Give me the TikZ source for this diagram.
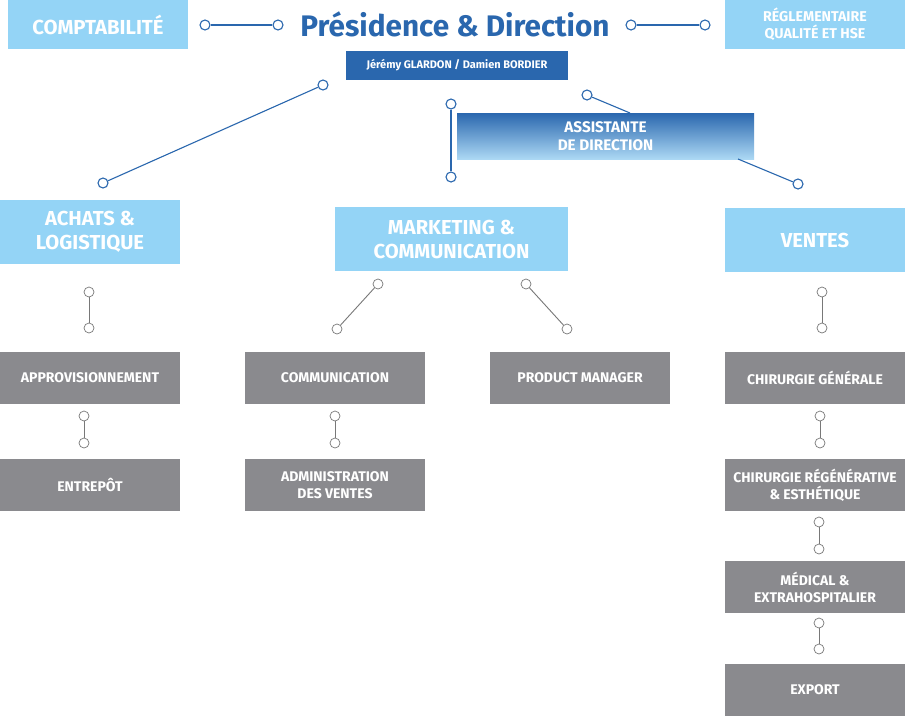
\documentclass[tikz,border=0pt]{standalone}
\usepackage{fontspec}
\setmainfont{Fira Sans}
\definecolor{lblue}{RGB}{148,212,246}
\definecolor{dblue}{RGB}{42,103,174}
\definecolor{gbox}{RGB}{138,138,142}
\definecolor{gline}{RGB}{120,120,120}
\definecolor{gradlow}{RGB}{172,216,244}
\tikzset{
  lbox/.style={rectangle, fill=lblue, inner sep=0pt, text=white, font=\bfseries, align=center},
  gbx/.style={rectangle, fill=gbox, inner sep=0pt, text=white, font=\bfseries\fontsize{14}{17}\selectfont, align=center, minimum width=180pt, minimum height=52pt},
  bdot/.style={circle, draw=dblue, fill=white, line width=1.1pt, minimum size=10pt, inner sep=0pt},
  gdot/.style={circle, draw=gline, fill=white, line width=0.7pt, minimum size=10pt, inner sep=0pt},
  bline/.style={draw=dblue, line width=1.1pt},
  gln/.style={draw=gline, line width=0.9pt},
}
\begin{document}
\begin{tikzpicture}[x=1pt,y=-1pt]
\useasboundingbox[fill=white] (0,0) rectangle (905,716);
% top row
\node[lbox, minimum width=180pt, minimum height=49pt, font=\bfseries\fontsize{20.3}{24}\selectfont] (compta) at (98,24.5) {COMPTABILITÉ};
\node[lbox, minimum width=180pt, minimum height=49pt, font=\bfseries\fontsize{14.2}{17}\selectfont] (regl) at (815,24.5) {RÉGLEMENTAIRE\\QUALITÉ ET HSE};
\node[text=dblue, font=\bfseries\fontsize{29.7}{34}\selectfont, inner sep=0pt, anchor=base] (title) at (455,36) {Présidence \& Direction};
\node[rectangle, fill=dblue, inner sep=0pt, minimum width=222pt, minimum height=29pt, text=white, font=\bfseries\fontsize{11}{13}\selectfont] (names) at (457,65.5) {Jérémy GLARDON / Damien BORDIER};
\node[rectangle, inner sep=0pt, minimum width=297pt, minimum height=46pt, top color=dblue, bottom color=gradlow, text=white, font=\bfseries\fontsize{15.3}{18}\selectfont, align=center] (asst) at (605.5,136) {ASSISTANTE\\DE DIRECTION};
% top connectors
\node[bdot] (t1) at (205,25) {}; \node[bdot] (t2) at (278,25) {};
\draw[bline] (t1) -- (t2);
\node[bdot] (t3) at (631,25) {}; \node[bdot] (t4) at (705,25) {};
\draw[bline] (t3) -- (t4);
\node[bdot] (d1) at (323,85) {}; \node[bdot] (d2) at (103,183) {};
\draw[bline] (d1) -- (d2);
\node[bdot] (v1) at (451,104) {}; \node[bdot] (v2) at (451,177) {};
\draw[bline] (v1) -- (v2);
\node[bdot] (a1) at (587,95) {}; \coordinate (a2) at (630,113);
\draw[bline] (a1) -- (a2);
\coordinate (a3) at (738,159); \node[bdot] (a4) at (798,184) {};
\draw[bline] (a3) -- (a4);
% department boxes
\node[lbox, minimum width=180pt, minimum height=64pt, font=\bfseries\fontsize{20.2}{24}\selectfont] (achats) at (90,232) {ACHATS \&\\LOGISTIQUE};
\node[lbox, minimum width=233pt, minimum height=64pt, font=\bfseries\fontsize{20.2}{24}\selectfont] (mkt) at (451.5,239) {MARKETING \&\\COMMUNICATION};
\node[lbox, minimum width=180pt, minimum height=64pt, font=\bfseries\fontsize{20.2}{24}\selectfont] (ventes) at (815,240) {VENTES};
% gray boxes
\node[gbx] (appro) at (90,378) {APPROVISIONNEMENT};
\node[gbx] (comm) at (335,378) {COMMUNICATION};
\node[gbx] (pm) at (580,378) {PRODUCT MANAGER};
\node[gbx] (chirg) at (815,378) {CHIRURGIE GÉNÉRALE};
\node[gbx] (entrepot) at (90,485) {ENTREPÔT};
\node[gbx] (admin) at (335,485) {ADMINISTRATION\\DES VENTES};
\node[gbx] (chirr) at (815,485) {CHIRURGIE RÉGÉNÉRATIVE\\\& ESTHÉTIQUE};
\node[gbx] (medical) at (815,587) {MÉDICAL \&\\EXTRAHOSPITALIER};
\node[gbx] (export) at (815,690) {EXPORT};
% gray connectors
\node[gdot] (g1a) at (89,292) {}; \node[gdot] (g1b) at (89,328) {}; \draw[gln] (g1a) -- (g1b);
\node[gdot] (g2a) at (378,284) {}; \node[gdot] (g2b) at (337,329) {}; \draw[gln] (g2a) -- (g2b);
\node[gdot] (g3a) at (526,284) {}; \node[gdot] (g3b) at (567,329) {}; \draw[gln] (g3a) -- (g3b);
\node[gdot] (g4a) at (822,292) {}; \node[gdot] (g4b) at (822,328) {}; \draw[gln] (g4a) -- (g4b);
\node[gdot] (g5a) at (84,416) {}; \node[gdot] (g5b) at (84,443) {}; \draw[gln] (g5a) -- (g5b);
\node[gdot] (g6a) at (335,416) {}; \node[gdot] (g6b) at (335,443) {}; \draw[gln] (g6a) -- (g6b);
\node[gdot] (g7a) at (820,416) {}; \node[gdot] (g7b) at (820,443) {}; \draw[gln] (g7a) -- (g7b);
\node[gdot] (g8a) at (819,522) {}; \node[gdot] (g8b) at (819,549) {}; \draw[gln] (g8a) -- (g8b);
\node[gdot] (g9a) at (819,623) {}; \node[gdot] (g9b) at (819,649) {}; \draw[gln] (g9a) -- (g9b);
\end{tikzpicture}
\end{document}
